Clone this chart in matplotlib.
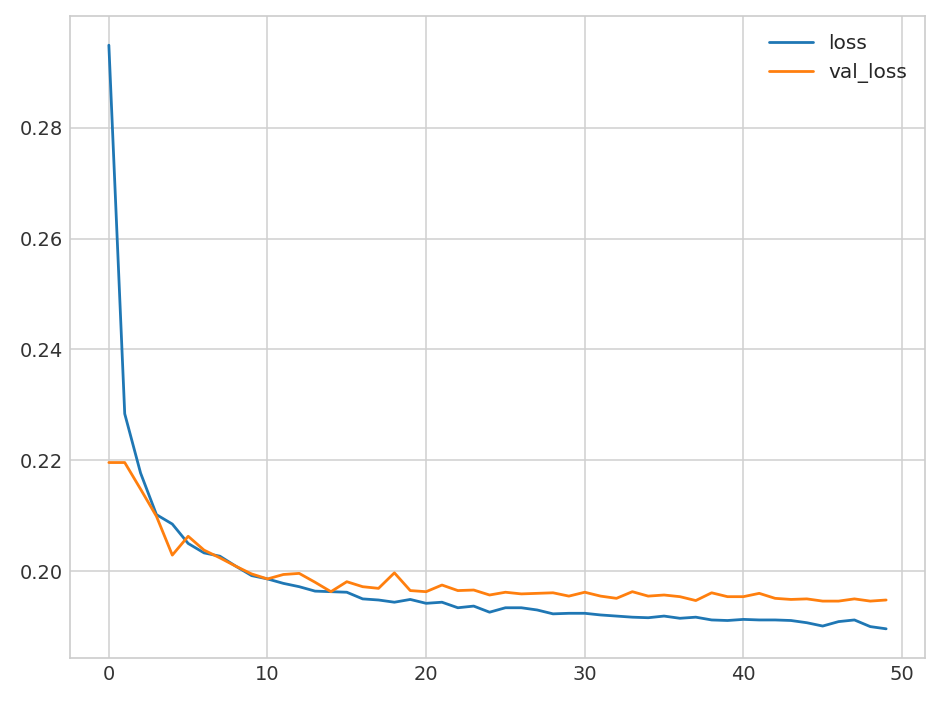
import matplotlib
matplotlib.use("Agg")
import matplotlib.pyplot as plt
import numpy as np

epochs = np.arange(50)
loss = [0.2949, 0.2284, 0.2177, 0.2102, 0.2085, 0.2050, 0.2033, 0.2027, 0.2009, 0.1992,
        0.1986, 0.1978, 0.1972, 0.1964, 0.1963, 0.1962, 0.1950, 0.1948, 0.1944, 0.1949,
        0.1942, 0.1944, 0.1934, 0.1937, 0.1926, 0.1934, 0.1934, 0.1930, 0.1923, 0.1924,
        0.1924, 0.1921, 0.1919, 0.1917, 0.1916, 0.1919, 0.1915, 0.1917, 0.1912, 0.1911,
        0.1913, 0.1912, 0.1912, 0.1911, 0.1907, 0.1901, 0.1909, 0.1912, 0.1900, 0.1896]
val_loss = [0.2196, 0.2196, 0.2148, 0.2099, 0.2029, 0.2063, 0.2038, 0.2024, 0.2009, 0.1995,
            0.1986, 0.1994, 0.1996, 0.1980, 0.1963, 0.1981, 0.1972, 0.1969, 0.1997, 0.1965,
            0.1963, 0.1975, 0.1965, 0.1966, 0.1957, 0.1962, 0.1959, 0.1960, 0.1961, 0.1955,
            0.1962, 0.1955, 0.1951, 0.1963, 0.1955, 0.1957, 0.1954, 0.1947, 0.1961, 0.1954,
            0.1954, 0.1960, 0.1951, 0.1949, 0.1950, 0.1946, 0.1946, 0.1950, 0.1946, 0.1948]

plt.style.use('seaborn-v0_8-whitegrid')
plt.rcParams['font.family'] = ['DejaVu Sans']

fig = plt.figure(figsize=(9.4, 7.01), dpi=100)
ax = fig.add_axes([70 / 940, 1 - 658 / 701, 855 / 940, (658 - 16) / 701])

ax.plot(epochs, loss, color='#1f77b4', linewidth=2.0, label='loss')
ax.plot(epochs, val_loss, color='#ff7f0e', linewidth=2.0, label='val_loss')

ax.set_xticks([0, 10, 20, 30, 40, 50])
ax.set_yticks([0.20, 0.22, 0.24, 0.26, 0.28])
ax.tick_params(labelsize=14, colors='#333333', pad=5)
ax.grid(color='#d0d0d0', linewidth=1.1)
for s in ax.spines.values():
    s.set_visible(True)
    s.set_color('#cccccc')
    s.set_linewidth(1.2)

ax.legend(loc='upper right', fontsize=14.5, frameon=False, handlelength=2.2,
          handletextpad=0.75)

fig.savefig('out.png', dpi=100)
